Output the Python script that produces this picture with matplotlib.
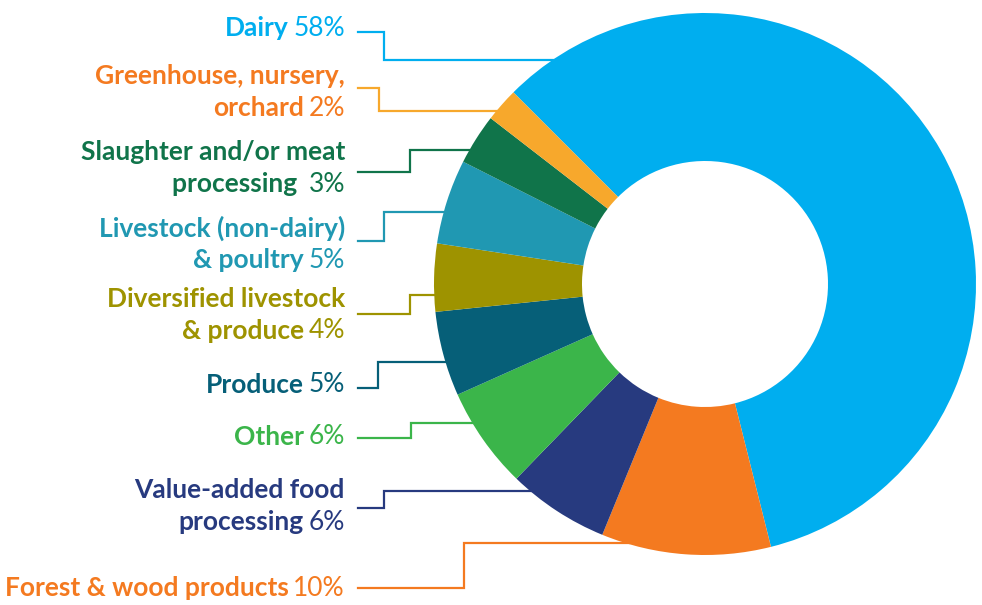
import numpy as np
import matplotlib.pyplot as plt

# data
categories = ['Dairy', 'Forest & wood products', 'Value-added food processing', 'Other',
              'Produce', 'Diversified livestock & produce', 'Livestock (non-dairy) & poultry',
              'Slaughter and/or meat processing', 'Greenhouse, nursery, orchard']
values = [58, 10, 6, 6, 5, 4, 5, 3, 2]
pct_labels = ['58%', '10%', '6%', '6%', '5%', '4%', '5%', '3%', '2%']
# label text lines (bold part of last line goes before the percent)
label_lines = [
    ['Dairy'],
    ['Forest & wood products'],
    ['Value-added food', 'processing'],
    ['Other'],
    ['Produce'],
    ['Diversified livestock', '& produce'],
    ['Livestock (non-dairy)', '& poultry'],
    ['Slaughter and/or meat', 'processing '],
    ['Greenhouse, nursery,', 'orchard'],
]
slice_colors = ['#00AEEF', '#F47A20', '#273A7F', '#3BB54A', '#065F78',
                '#9E9300', '#2098B2', '#10744A', '#F7A82C']
text_colors = ['#00AEEF', '#F47A20', '#273A7F', '#3BB54A', '#065F78',
               '#9E9300', '#2098B2', '#10744A', '#F47A20']

# layout in pixel units (y measured from top)
W, H = 982, 605
cx, cy = 705, 284
r_out, r_in = 271, 123
text_x = 345
# first text line centre, connector start y, elbow x, connector end y
layout = [
    (28, 32, 384, 60),
    (588, 588, 464, 543),
    (490, 508, 384, 491),
    (437, 438, 411, 423),
    (385, 388, 378, 362),
    (299, 314, 410, 295),
    (228, 241, 384, 212),
    (152, 172, 410, 150),
    (76, 88, 379, 111),
]
line_gap = 32

plt.rcParams['font.family'] = ['Lato', 'DejaVu Sans']

fig = plt.figure(figsize=(W / 100, H / 100), dpi=100)
ax = fig.add_axes([0, 0, 1, 1])

ax.pie(values, colors=slice_colors, startangle=135, counterclock=False,
       center=(cx, H - cy), radius=r_out,
       wedgeprops=dict(width=r_out - r_in, linewidth=0), frame=False)
ax.set_xlim(0, W)
ax.set_ylim(0, H)
ax.set_aspect('equal')
ax.axis('off')

fs = 19
for i, lines in enumerate(label_lines):
    ty, y0, xe, y1 = layout[i]
    col = text_colors[i]
    # all but the last line are plain bold
    for j, ln in enumerate(lines[:-1]):
        ax.text(text_x, H - (ty + j * line_gap), ln, ha='right', va='center',
                fontsize=fs, fontweight='bold', color=col)
    yl = ty + (len(lines) - 1) * line_gap
    pct = ax.text(text_x, H - yl, pct_labels[i], ha='right', va='center',
                  fontsize=fs, color=col)
    ax.annotate(lines[-1], xy=(0, 0.5), xycoords=pct, xytext=(-3.5, 0),
                textcoords='offset points', ha='right', va='center',
                fontsize=fs, fontweight='bold', color=col)
    # connector: ends on the outer rim of the donut
    x_end = cx - np.sqrt(r_out ** 2 - (y1 - cy) ** 2) + 4
    ax.plot([358, xe, xe, x_end], [H - y0, H - y0, H - y1, H - y1],
            color=slice_colors[i], lw=1.6, zorder=0, solid_joinstyle='miter')

fig.savefig('out.png', dpi=100)
